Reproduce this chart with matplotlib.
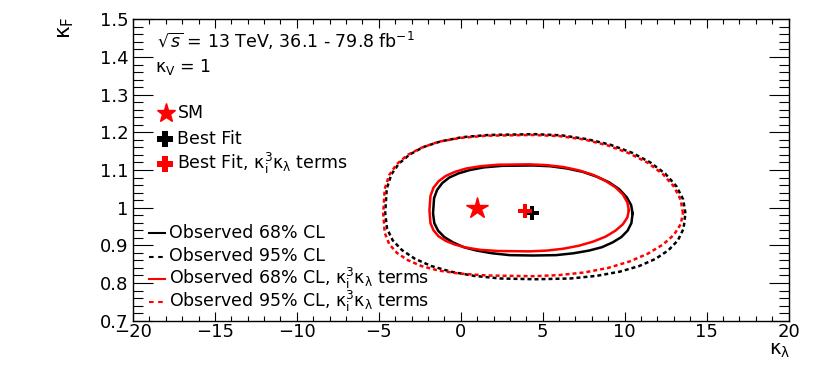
import matplotlib
matplotlib.use("Agg")
import matplotlib.pyplot as plt
from matplotlib.ticker import MultipleLocator, FuncFormatter

plt.rcParams['font.family'] = ['DejaVu Sans']
plt.rcParams['mathtext.fontset'] = 'dejavusans'
plt.rcParams['mathtext.default'] = 'regular'

# ---- contour points (kappa_lambda, kappa_F) ----
# Observed 68% CL (black solid)
kl_obs68 = [10.49, 10.397, 10.123, 9.674, 9.065, 8.315, 7.445, 6.483, 5.457, 4.4,
            2.504, 1.422, 0.563, -0.136, -0.698, -1.133, -1.443, -1.628, -1.69,
            -1.613, -1.382, -1.002, -0.477, 0.186, 0.982, 1.909, 2.984, 4.4,
            5.816, 6.891, 7.818, 8.614, 9.277, 9.802, 10.182, 10.413, 10.49]
kf_obs68 = [0.985, 1.007, 1.028, 1.049, 1.067, 1.082, 1.095, 1.104, 1.110, 1.112,
            1.111, 1.107, 1.100, 1.091, 1.080, 1.065, 1.047, 1.025, 0.985,
            0.959, 0.939, 0.922, 0.908, 0.895, 0.886, 0.879, 0.874, 0.873,
            0.874, 0.879, 0.886, 0.895, 0.908, 0.922, 0.939, 0.959, 0.985]
# Observed 95% CL (black dashed)
kl_obs95 = [13.71, 13.571, 13.158, 12.483, 11.567, 10.438, 9.13, 7.683, 6.14, 4.55,
            1.698, 0.071, -1.221, -2.273, -3.118, -3.773, -4.238, -4.517, -4.61,
            -4.494, -4.147, -3.575, -2.785, -1.788, -0.591, 0.804, 2.42, 4.55,
            6.68, 8.297, 9.691, 10.888, 11.885, 12.675, 13.247, 13.594, 13.71]
kf_obs95 = [0.985, 1.022, 1.057, 1.090, 1.120, 1.146, 1.167, 1.182, 1.192, 1.195,
            1.193, 1.187, 1.176, 1.161, 1.141, 1.117, 1.088, 1.050, 0.985,
            0.944, 0.913, 0.887, 0.864, 0.845, 0.830, 0.819, 0.812, 0.810,
            0.812, 0.819, 0.830, 0.845, 0.864, 0.887, 0.913, 0.944, 0.985]
# Observed 68% CL, kappa_i^3 kappa_lambda terms (red solid)
kl_obs68k = [10.26, 10.167, 9.893, 9.444, 8.835, 8.085, 7.215, 6.253, 5.227, 4.17,
             2.277, 1.197, 0.34, -0.359, -0.92, -1.354, -1.663, -1.848, -1.91,
             -1.848, -1.663, -1.354, -0.92, -0.359, 0.34, 1.197, 2.277, 4.17,
             5.227, 6.253, 7.215, 8.085, 8.835, 9.444, 9.893, 10.167, 10.26]
kf_obs68k = [0.993, 1.014, 1.035, 1.054, 1.071, 1.087, 1.099, 1.108, 1.113, 1.115,
             1.114, 1.110, 1.104, 1.095, 1.084, 1.070, 1.053, 1.031, 0.993,
             0.959, 0.940, 0.924, 0.912, 0.902, 0.894, 0.888, 0.885, 0.884,
             0.886, 0.891, 0.899, 0.910, 0.923, 0.939, 0.956, 0.974, 0.993]
# Observed 95% CL, kappa_i^3 kappa_lambda terms (red dashed)
kl_obs95k = [13.56, 13.421, 13.009, 12.335, 11.42, 10.293, 8.988, 7.543, 6.003, 4.415,
             1.568, -0.057, -1.346, -2.397, -3.24, -3.894, -4.359, -4.637, -4.73,
             -4.637, -4.359, -3.894, -3.24, -2.397, -1.346, -0.057, 1.568, 4.415,
             6.003, 7.543, 8.988, 10.293, 11.42, 12.335, 13.009, 13.421, 13.56]
kf_obs95k = [0.985, 1.021, 1.056, 1.089, 1.119, 1.144, 1.165, 1.181, 1.190, 1.193,
             1.191, 1.185, 1.175, 1.159, 1.140, 1.116, 1.087, 1.050, 0.985,
             0.933, 0.903, 0.880, 0.861, 0.845, 0.833, 0.825, 0.820, 0.818,
             0.821, 0.828, 0.840, 0.857, 0.878, 0.902, 0.928, 0.956, 0.985]

sm_point = (1.0, 1.0)
bestfit = (4.35, 0.987)
bestfit_k = (3.9, 0.992)

xlim = (-20, 20)
ylim = (0.7, 1.5)

legend_labels = ["Observed 68% CL", "Observed 95% CL",
                 r"Observed 68% CL, $\kappa_{i}^{3}\kappa_{\lambda}$ terms",
                 r"Observed 95% CL, $\kappa_{i}^{3}\kappa_{\lambda}$ terms"]
marker_labels = ["SM", "Best Fit", r"Best Fit, $\kappa_{i}^{3}\kappa_{\lambda}$ terms"]

RED = '#ff0000'
LW = 1.8
DASH = (1.6, 1.2)

fig = plt.figure(figsize=(8.3, 3.82), dpi=100)
ax = fig.add_axes([0.1602, 0.1605, 0.7898, 0.789])

common = dict(lw=LW, solid_joinstyle='round', dash_joinstyle='round')
ax.plot(kl_obs95, kf_obs95, color='black', dashes=DASH, **common)
ax.plot(kl_obs95k, kf_obs95k, color=RED, dashes=DASH, **common)
ax.plot(kl_obs68, kf_obs68, color='black', **common)
ax.plot(kl_obs68k, kf_obs68k, color=RED, **common)

ax.plot([sm_point[0]], [sm_point[1]], marker='*', ms=16, color=RED, mec=RED, ls='none')
ax.plot([bestfit[0]], [bestfit[1]], marker='P', ms=10, color='black', mew=0, ls='none')
ax.plot([bestfit_k[0]], [bestfit_k[1]], marker='P', ms=10, color=RED, mew=0, ls='none')

ax.set_xlim(*xlim)
ax.set_ylim(*ylim)
ax.xaxis.set_major_locator(MultipleLocator(5))
ax.xaxis.set_minor_locator(MultipleLocator(1))
ax.yaxis.set_major_locator(MultipleLocator(0.1))
ax.yaxis.set_minor_locator(MultipleLocator(0.02))
fmt = FuncFormatter(lambda v, p: f"{v:g}".replace('-', '\u2212'))
ax.xaxis.set_major_formatter(fmt)
ax.yaxis.set_major_formatter(fmt)
ax.tick_params(which='both', direction='in', top=True, right=True, width=0.8, labelsize=13)
ax.tick_params(axis='x', which='major', length=6.5, pad=2)
ax.tick_params(axis='x', which='minor', length=3.4)
ax.tick_params(axis='y', which='major', length=14.4, pad=3.4)
ax.tick_params(axis='y', which='minor', length=7.2)
for s in ax.spines.values():
    s.set_linewidth(1.0)

fig.text(65.5/830, 1 - 27.5/382, r"$\kappa_{F}$", rotation=90, ha='center', va='center', fontsize=15.5)
fig.text(790/830, 1 - 350/382, r"$\kappa_{\lambda}$", ha='right', va='center', fontsize=14)

FS = 12.5
tr = ax.transAxes
ax.text(0.0361, 0.9038, r"$\sqrt{\mathit{s}}$ = 13 TeV, 36.1 - 79.8 fb$^{-1}$", transform=tr,
        fontsize=FS, va='baseline', ha='left')
ax.text(0.0336, 0.8261, r"$\kappa_{V}$ = 1", transform=tr, fontsize=FS, va='baseline', ha='left')

# marker legend
mk_y = [0.689, 0.6019, 0.5205]
txt_y = [0.6715, 0.5853, 0.5023]
ax.plot([0.0499], [mk_y[0]], transform=tr, marker='*', ms=14, color=RED, ls='none', clip_on=False)
ax.plot([0.0488], [mk_y[1]], transform=tr, marker='P', ms=11, color='black', mew=0, ls='none', clip_on=False)
ax.plot([0.0488], [mk_y[2]], transform=tr, marker='P', ms=11, color=RED, mew=0, ls='none', clip_on=False)
for lab, y in zip(marker_labels, txt_y):
    ax.text(0.0679, y, lab, transform=tr, fontsize=FS, va='baseline', ha='left')

# line legend
ln_y = [0.290, 0.2123, 0.1374, 0.0610]
ln_txt_y = [0.2754, 0.1981, 0.1208, 0.0445]
styles = [('black', None), ('black', DASH), (RED, None), (RED, DASH)]
for (c, d), y, ty, lab in zip(styles, ln_y, ln_txt_y, legend_labels):
    kw = dict(color=c, lw=1.5, transform=tr, clip_on=False)
    if d is not None:
        kw['dashes'] = (2.2, 2.2)
    ax.plot([0.0244, 0.0488], [y, y], **kw)
    ax.text(0.0554, ty, lab, transform=tr, fontsize=FS, va='baseline', ha='left')

fig.savefig("out.png", dpi=100)
